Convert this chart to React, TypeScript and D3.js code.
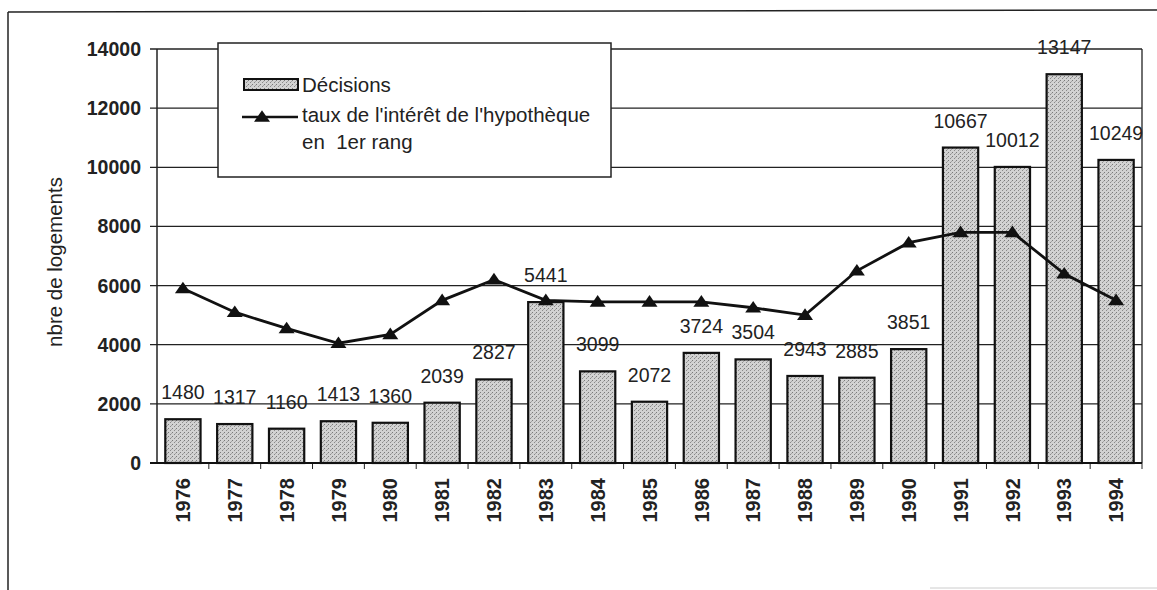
import React from 'react';
import * as d3 from 'd3';

const years = ['1976', '1977', '1978', '1979', '1980', '1981', '1982', '1983', '1984', '1985',
  '1986', '1987', '1988', '1989', '1990', '1991', '1992', '1993', '1994'];
const decisions = [1480, 1317, 1160, 1413, 1360, 2039, 2827, 5441, 3099, 2072,
  3724, 3504, 2943, 2885, 3851, 10667, 10012, 13147, 10249];
const tauxInteret = [5900, 5100, 4550, 4050, 4350, 5500, 6200, 5500, 5450, 5450,
  5450, 5250, 5000, 6500, 7450, 7800, 7800, 6400, 5500];
const yTicks = [0, 2000, 4000, 6000, 8000, 10000, 12000, 14000];

const font = '"Liberation Sans", Arial, sans-serif';

function Triangle({ x, y, s = 8 }: { x: number; y: number; s?: number }) {
  return (
    <path d={`M${x},${y - s * 0.85} L${x + s},${y + s * 0.6} L${x - s},${y + s * 0.6} Z`} fill="#111" />
  );
}

export default function App() {
  const width = 1157;
  const height = 590;
  const left = 157, right = 1142, top = 49, bottom = 463;

  const x = d3.scaleBand().domain(years).range([left, right]).paddingInner(0.32).paddingOuter(0.16);
  const y = d3.scaleLinear().domain([0, 14000]).range([bottom, top]);
  const step = x.step();

  const line = d3.line<number>()
    .x((_, i) => x(years[i])! + x.bandwidth() / 2)
    .y((d) => y(d));

  return (
    <svg width={width} height={height} style={{ position: 'absolute', left: 0, top: 0, background: '#fff' }}>
      <defs>
        <pattern id="stipple" width="4" height="4" patternUnits="userSpaceOnUse">
          <rect width="4" height="4" fill="#d2d2d2" />
          <rect x="0" y="0" width="1" height="1" fill="#7a7a7a" />
          <rect x="2" y="2" width="1" height="1" fill="#8a8a8a" />
          <rect x="3" y="1" width="1" height="1" fill="#a5a5a5" />
        </pattern>
      </defs>

      {/* outer frame */}
      <line x1={8} y1={12} x2={1157} y2={10} stroke="#222" strokeWidth={1.5} />
      <line x1={8} y1={12} x2={8} y2={590} stroke="#222" strokeWidth={1.5} />
      <line x1={930} y1={588} x2={1157} y2={588} stroke="#ccc" strokeWidth={1} />

      {/* gridlines + y ticks */}
      {yTicks.map((t) => (
        <g key={t}>
          <line x1={150} x2={right} y1={y(t)} y2={y(t)} stroke="#222" strokeWidth={1.3} />
          <text x={141} y={y(t)} dy="0.36em" textAnchor="end" fontFamily={font} fontWeight="bold" fontSize={19.5} fill="#222">{t}</text>
        </g>
      ))}
      <line x1={left} x2={left} y1={top} y2={bottom} stroke="#222" strokeWidth={1.5} />
      <line x1={right} x2={right} y1={top} y2={bottom} stroke="#222" strokeWidth={1.3} />

      {/* x ticks */}
      {years.map((yr, i) => (
        <line key={yr} x1={left + step * (i + 1)} x2={left + step * (i + 1)} y1={bottom} y2={bottom + 6} stroke="#222" strokeWidth={1} />
      ))}

      {/* bars */}
      {decisions.map((v, i) => (
        <rect key={years[i]} x={x(years[i])} y={y(v)} width={x.bandwidth()} height={bottom - y(v)}
          fill="url(#stipple)" stroke="#111" strokeWidth={2.2} />
      ))}
      <line x1={150} x2={right} y1={bottom} y2={bottom} stroke="#111" strokeWidth={2} />

      {/* data labels */}
      {decisions.map((v, i) => (
        <text key={years[i]} x={x(years[i])! + x.bandwidth() / 2} y={y(v) - 20} textAnchor="middle"
          fontFamily={font} fontSize={19.5} fill="#222">{v}</text>
      ))}

      {/* line series */}
      <path d={line(tauxInteret) || ''} fill="none" stroke="#111" strokeWidth={2.8} />
      {tauxInteret.map((v, i) => (
        <Triangle key={years[i]} x={x(years[i])! + x.bandwidth() / 2} y={y(v)} />
      ))}

      {/* x labels */}
      {years.map((yr) => {
        const cx = x(yr)! + x.bandwidth() / 2;
        return (
          <text key={yr} transform={`translate(${cx},${478}) rotate(-90)`} textAnchor="end" dy="0.36em"
            fontFamily={font} fontWeight="bold" fontSize={20} fill="#222">{yr}</text>
        );
      })}

      {/* y axis title */}
      <text transform={`translate(55,262) rotate(-90)`} textAnchor="middle" dy="0.35em"
        fontFamily={font} fontSize={20.5} fill="#222">nbre de logements</text>

      {/* legend */}
      <rect x={218} y={43} width={393} height={134} fill="#fff" stroke="#222" strokeWidth={1.5} />
      <rect x={244} y={79} width={54} height={11} fill="url(#stipple)" stroke="#111" strokeWidth={2} />
      <text x={302} y={92} fontFamily={font} fontSize={20.5} fill="#222">Décisions</text>
      <line x1={242} x2={298} y1={117} y2={117} stroke="#111" strokeWidth={2.5} />
      <Triangle x={262} y={117} />
      <text x={302} y={122} fontFamily={font} fontSize={20.5} fill="#222">taux de l'intérêt de l'hypothèque</text>
      <text x={302} y={149} fontFamily={font} fontSize={20.5} fill="#222" style={{ whiteSpace: 'pre' }}>en  1er rang</text>
    </svg>
  );
}
